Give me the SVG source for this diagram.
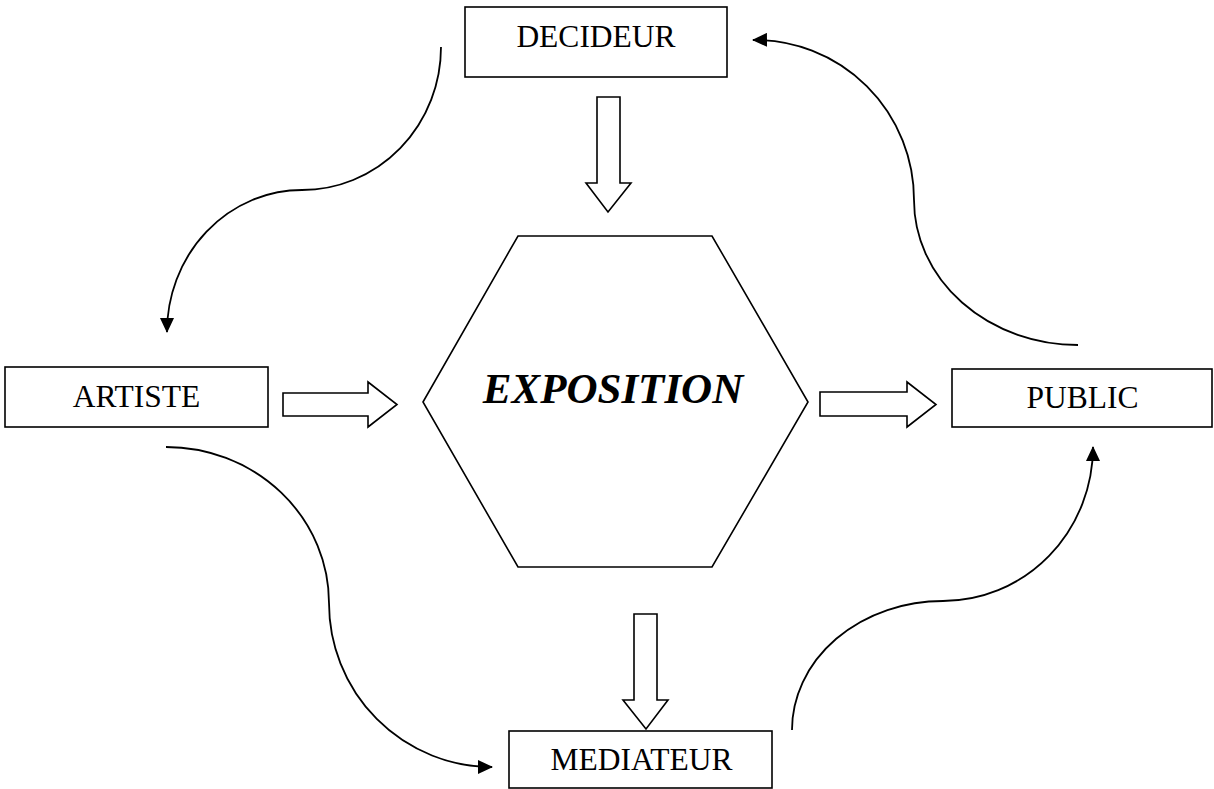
<svg xmlns="http://www.w3.org/2000/svg" width="1214" height="789" viewBox="0 0 1214 789">
<style>
.box{fill:#fff;stroke:#000;stroke-width:1.6}
.lbl{font-family:"Liberation Serif","Times New Roman",serif;font-size:31.5px;fill:#000;text-anchor:middle}
.big{font-family:"Liberation Serif","Times New Roman",serif;font-size:43px;font-weight:bold;font-style:italic;fill:#000;text-anchor:middle}
.block{fill:#fff;stroke:#000;stroke-width:1.6;stroke-linejoin:miter}
.curve{fill:none;stroke:#000;stroke-width:1.8}
</style>
<defs>
<marker id="ah" viewBox="0 0 15 14" markerUnits="userSpaceOnUse" markerWidth="15" markerHeight="14" refX="14" refY="7" orient="auto">
<path d="M0,0 L15,7 L0,14 z" fill="#000"/>
</marker>
</defs>
<rect width="1214" height="789" fill="#fff"/>
<g id="connectors">
<path class="curve" d="M441,47 A139,143 0 0 1 302,190 A135,142 0 0 0 167,332" marker-end="url(#ah)"/>
<path class="curve" d="M1078,345 A164,145 0 0 1 914,200 A159,160 0 0 0 753,40" marker-end="url(#ah)"/>
<path class="curve" d="M166,447 A163,156 0 0 1 329,603 A163,164 0 0 0 492,767" marker-end="url(#ah)"/>
<path class="curve" d="M792,730 A151,129 0 0 1 943,601 A150,154 0 0 0 1093,447" marker-end="url(#ah)"/>
<polygon class="block" points="597,97 620,97 620,183 631,183 608,212 586,183 597,183"/>
<polygon class="block" points="283,393 368,393 368,382 397,404.5 368,427 368,416 283,416"/>
<polygon class="block" points="820,392 907,392 907,382 936,404.5 907,427 907,416 820,416"/>
<polygon class="block" points="634,614 657,614 657,700 668,700 646,729 623,700 634,700"/>
</g>
<g id="decideur">
<rect class="box" x="465" y="7" width="262" height="70"/>
<text class="lbl" x="596" y="47">DECIDEUR</text>
</g>
<g id="artiste">
<rect class="box" x="5" y="367" width="263" height="60"/>
<text class="lbl" x="136.5" y="407">ARTISTE</text>
</g>
<g id="exposition">
<polygon class="box" points="423,402 518,236 712,236 808,402 712,567 518,567"/>
<text class="big" x="613" y="403">EXPOSITION</text>
</g>
<g id="public">
<rect class="box" x="952" y="369" width="260" height="58"/>
<text class="lbl" x="1082.5" y="408">PUBLIC</text>
</g>
<g id="mediateur">
<rect class="box" x="509" y="731" width="263" height="57"/>
<text class="lbl" x="641.5" y="770">MEDIATEUR</text>
</g>
</svg>
